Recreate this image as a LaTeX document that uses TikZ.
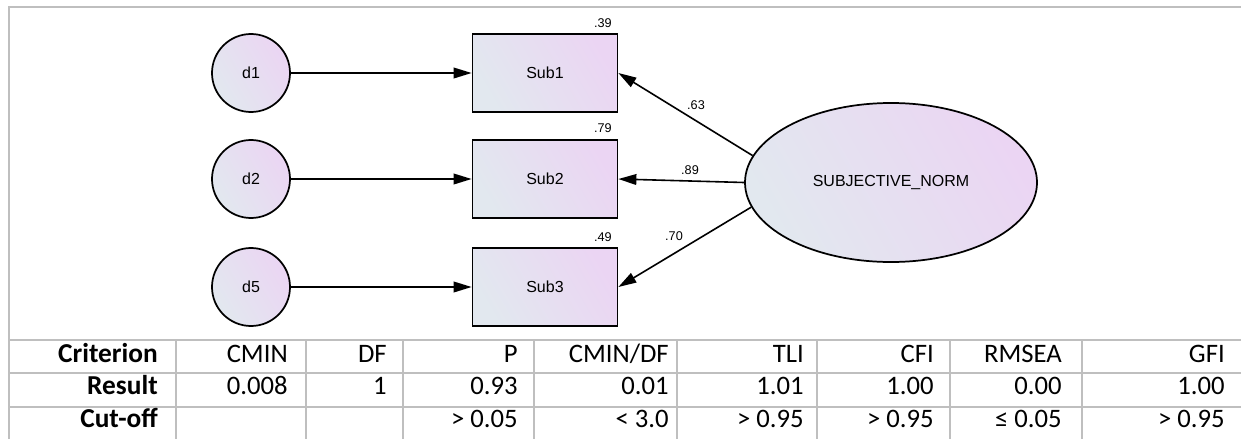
\documentclass[tikz,border=0pt]{standalone}
\usepackage{fontspec}
\setmainfont{Carlito}
\newfontfamily\amosfont{Liberation Sans}
\usetikzlibrary{arrows.meta, shapes.geometric}

\definecolor{sgcool}{RGB}{226,232,239}
\definecolor{sgwarm}{RGB}{235,213,243}
\definecolor{rulegray}{RGB}{191,191,191}

\begin{document}
\begin{tikzpicture}[x=0.75pt, y=-0.75pt,
	amosfill/.style={left color=sgcool, right color=sgwarm, shading angle=120},
	errvar/.style={circle, draw, line width=1.3pt, amosfill, minimum size=58.5pt, inner sep=0pt, font=\amosfont\fontsize{12}{14}\selectfont},
	observed/.style={rectangle, draw, line width=1.3pt, amosfill, minimum width=108.75pt, minimum height=58.5pt, inner sep=0pt, font=\amosfont\fontsize{12}{14}\selectfont},
	latent/.style={ellipse, draw, line width=1.3pt, amosfill, minimum width=219pt, minimum height=119.25pt, inner sep=0pt, font=\amosfont\fontsize{12}{14}\selectfont},
	regpath/.style={line width=1.2pt, -{Triangle[length=13.5pt,width=8pt]}},
	est/.style={inner sep=0pt, font=\amosfont\fontsize{9.5}{11}\selectfont},
	cell/.style={anchor=base east, inner sep=0pt, font=\fontsize{20}{24}\selectfont},
	rowhead/.style={cell, font=\fontsize{20.5}{24}\selectfont\bfseries},
	grid/.style={rulegray, line width=1.4pt}]
	\useasboundingbox (0,0) rectangle (1241,439);

	% frame and table rules
	\draw[grid] (9,439) -- (9,7) -- (1241,7);
	\draw[grid] (9,340) -- (1241,340);
	\draw[grid] (9,373) -- (1241,373);
	\draw[grid] (9,407) -- (1241,407);
	\foreach \x in {176,306,403,534,677,817,950,1082}
		\draw[grid] (\x,340) -- (\x,439);

	% path diagram
	\node[errvar] (d1) at (251,73) {d1};
	\node[errvar] (d2) at (251,179) {d2};
	\node[errvar] (d5) at (251,287) {d5};

	\node[observed] (Sub1) at (545,73) {Sub1};
	\node[observed] (Sub2) at (545,179) {Sub2};
	\node[observed] (Sub3) at (545,287) {Sub3};

	\node[latent] (SN) at (891,182.5) {SUBJECTIVE\_NORM};

	\node[est, anchor=east] (r1) at (612,23) {.39};
	\node[est, anchor=east] (r2) at (612,128) {.79};
	\node[est, anchor=east] (r3) at (612,237) {.49};

	\draw[regpath] (d1) -- (Sub1);
	\draw[regpath] (d2) -- (Sub2);
	\draw[regpath] (d5) -- (Sub3);

	\draw[regpath] (SN.169) -- (Sub1.east);
	\draw[regpath] (SN.180) -- (Sub2.east);
	\draw[regpath] (SN.190) -- (Sub3.east);

	\node[est] (w1) at (696,105) {.63};
	\node[est] (w2) at (690,170) {.89};
	\node[est] (w3) at (674,236) {.70};

	% fit table
	\node[rowhead] (hd) at (158,362) {Criterion};
	\node[rowhead] (rs) at (158,394) {Result};
	\node[rowhead] (co) at (158,427) {Cut-off};
	\foreach \x/\h/\r/\c [count=\i] in {288/CMIN/0.008/{}, 387/DF/1/{}, 518/P/0.93/{> 0.05},
		669/{CMIN/DF}/0.01/{< 3.0}, 804/TLI/1.01/{> 0.95}, 934/CFI/1.00/{> 0.95},
		1062/RMSEA/0.00/{≤ 0.05}, 1225/GFI/1.00/{> 0.95}}{
		\node[cell] (hd\i) at (\x,362) {\h};
		\node[cell] (rs\i) at (\x,394) {\r};
		\node[cell] (co\i) at (\x,427) {\c};
	}
\end{tikzpicture}
\end{document}
